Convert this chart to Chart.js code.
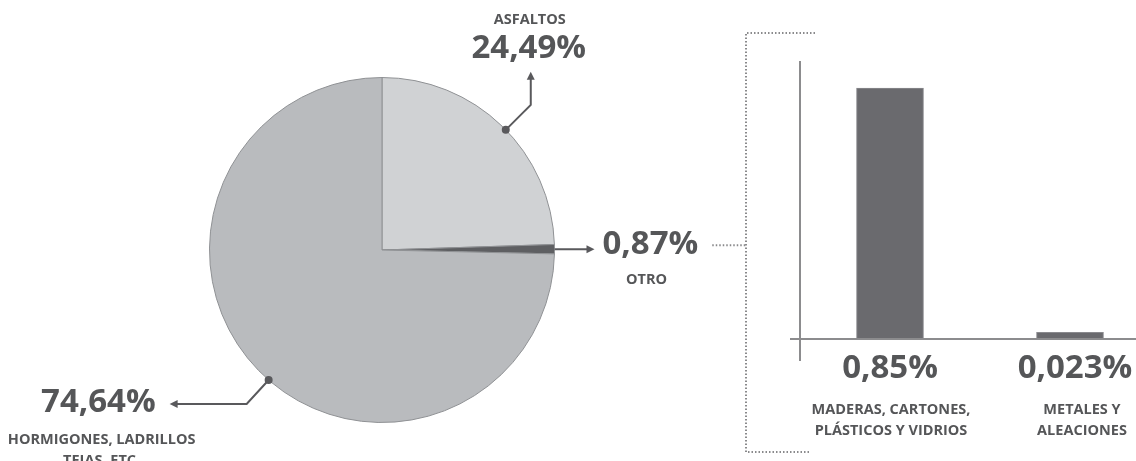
<!DOCTYPE html>
<html>
<head>
<meta charset="utf-8">
<script src="https://cdn.jsdelivr.net/npm/chart.js@4.4.1/dist/chart.umd.min.js"></script>
<style>
  html, body { margin: 0; padding: 0; background: #fff; overflow: hidden; }
  #wrap { position: relative; width: 1136px; height: 461px; overflow: hidden; }
  canvas { position: absolute; left: 0; top: 0; }
</style>
</head>
<body>
<div id="wrap">
  <canvas id="pie" width="1136" height="461"></canvas>
  <canvas id="bars" width="1170" height="461"></canvas>
</div>
<script>
// pie: share of each waste type
const pieLabels = [["ASFALTOS"], ["OTRO"], ["HORMIGONES, LADRILLOS", "TEJAS, ETC."]];
const pieValues = [24.49, 0.87, 74.64];
const pieValueText = ["24,49%", "0,87%", "74,64%"];

// bars: breakdown of "otro"
const barLabels = [["MADERAS, CARTONES,", "PLÁSTICOS Y VIDRIOS"], ["METALES Y", "ALEACIONES"]];
const barValues = [0.85, 0.023];
const barValueText = ["0,85%", "0,023%"];

const TEXT = "#555658";
const LINE = "#59595c";
const DOTS = "#8a8a8c";
const BIG = "bold 33px 'Open Sans'";
const SMALL = "bold 14.5px 'Open Sans'";
const BRACKET_X = 746;

function drawText(ctx, str, x, y, font, align) {
  ctx.font = font;
  ctx.fillStyle = TEXT;
  ctx.textAlign = align || "center";
  ctx.textBaseline = "middle";
  ctx.fillText(str, x, y);
}

function polyline(ctx, pts) {
  ctx.beginPath();
  ctx.moveTo(pts[0][0], pts[0][1]);
  for (const p of pts.slice(1)) ctx.lineTo(p[0], p[1]);
  ctx.stroke();
}

function arrowHead(ctx, x, y, dir) {
  // x,y is the tip
  const len = 8, half = 4;
  ctx.beginPath();
  ctx.moveTo(x, y);
  if (dir === "up") { ctx.lineTo(x - half, y + len); ctx.lineTo(x + half, y + len); }
  if (dir === "right") { ctx.lineTo(x - len, y - half); ctx.lineTo(x - len, y + half); }
  if (dir === "left") { ctx.lineTo(x + len, y - half); ctx.lineTo(x + len, y + half); }
  ctx.closePath();
  ctx.fill();
}

function dot(ctx, x, y) {
  ctx.beginPath();
  ctx.arc(x, y, 4, 0, Math.PI * 2);
  ctx.fill();
}

const pieNotes = {
  id: "pieNotes",
  afterDraw(chart) {
    const ctx = chart.ctx;
    const arcs = chart.getDatasetMeta(0).data;
    const at = (i, t) => {
      const a = arcs[i];
      const ang = a.startAngle + (a.endAngle - a.startAngle) * t;
      return { x: a.x + Math.cos(ang) * a.outerRadius, y: a.y + Math.sin(ang) * a.outerRadius };
    };
    ctx.save();
    ctx.strokeStyle = LINE;
    ctx.fillStyle = LINE;
    ctx.lineWidth = 2;

    // asfaltos
    let p = at(0, 0.52);
    polyline(ctx, [[p.x, p.y], [p.x + 25, p.y - 25], [p.x + 25, p.y - 52]]);
    arrowHead(ctx, p.x + 25, p.y - 58, "up");
    dot(ctx, p.x, p.y);
    drawText(ctx, pieValueText[0], p.x + 23, p.y - 81, BIG);
    drawText(ctx, pieLabels[0][0], p.x + 24, p.y - 110, SMALL);

    // otro
    ctx.fillStyle = LINE;
    p = at(1, 0.5);
    polyline(ctx, [[p.x, p.y], [p.x + 33, p.y]]);
    arrowHead(ctx, p.x + 40, p.y, "right");
    drawText(ctx, pieValueText[1], p.x + 48, p.y - 5, BIG, "left");
    drawText(ctx, pieLabels[1][0], p.x + 92, p.y + 31, SMALL);
    ctx.font = BIG;
    const endX = p.x + 48 + ctx.measureText(pieValueText[1]).width + 14;
    ctx.strokeStyle = DOTS;
    ctx.setLineDash([1.5, 2]);
    polyline(ctx, [[endX, p.y - 4], [BRACKET_X, p.y - 4]]);
    ctx.setLineDash([]);

    // hormigones
    ctx.strokeStyle = LINE;
    ctx.fillStyle = LINE;
    p = at(2, 0.483);
    polyline(ctx, [[p.x, p.y], [p.x - 22, p.y + 24], [p.x - 92, p.y + 24]]);
    arrowHead(ctx, p.x - 99, p.y + 24, "left");
    dot(ctx, p.x, p.y);
    drawText(ctx, pieValueText[2], p.x - 113, p.y + 23, BIG, "right");
    pieLabels[2].forEach((line, j) => drawText(ctx, line, p.x - 167, p.y + 60 + j * 21, SMALL));
    ctx.restore();
  },
};

const barNotes = {
  id: "barNotes",
  afterDraw(chart) {
    const ctx = chart.ctx;
    const area = chart.chartArea;
    const shiftValue = [0, 5];
    const shiftLabel = [1, 12];
    ctx.save();
    chart.getDatasetMeta(0).data.forEach((bar, i) => {
      drawText(ctx, barValueText[i], bar.x + shiftValue[i], bar.base + 31, BIG);
      barLabels[i].forEach((line, j) =>
        drawText(ctx, line, bar.x + shiftLabel[i], bar.base + 72 + j * 21, SMALL)
      );
    });
    // dotted bracket grouping the breakdown
    ctx.strokeStyle = DOTS;
    ctx.lineWidth = 2;
    ctx.setLineDash([1.5, 2]);
    polyline(ctx, [[BRACKET_X + 69, area.top - 29], [BRACKET_X, area.top - 29],
      [BRACKET_X, area.bottom + 92], [BRACKET_X + 64, area.bottom + 92]]);
    ctx.restore();
  },
};

new Chart(document.getElementById("pie"), {
  type: "pie",
  data: {
    labels: pieLabels.map((l) => l.join(" ")),
    datasets: [{
      data: pieValues,
      backgroundColor: ["#d0d2d4", "#5e5f62", "#b9bbbe"],
      borderColor: "#8f9194",
      borderWidth: 1,
    }],
  },
  options: {
    responsive: false,
    animation: false,
    layout: { padding: { left: 209, right: 581, top: 77, bottom: 38 } },
    plugins: { legend: { display: false }, tooltip: { enabled: false } },
  },
  plugins: [pieNotes],
});

new Chart(document.getElementById("bars"), {
  type: "bar",
  data: {
    labels: barLabels.map((l) => l.join(" ")),
    datasets: [{
      data: barValues,
      backgroundColor: "#6a6a6e",
      borderColor: "#8a8a8e",
      borderWidth: 1,
      barThickness: 67,
    }],
  },
  options: {
    responsive: false,
    animation: false,
    layout: { padding: { left: 790, right: 10, top: 62, bottom: 101 } },
    plugins: { legend: { display: false }, tooltip: { enabled: false } },
    scales: {
      x: { display: false },
      y: {
        min: -0.071,
        max: 0.938,
        afterBuildTicks: (scale) => { scale.ticks = [{ value: 0 }]; },
        ticks: { display: false },
        border: { color: "#8c8c8e", width: 2 },
        grid: { color: "#8c8c8e", lineWidth: 2, tickLength: 10 },
      },
    },
  },
  plugins: [barNotes],
});
</script>
</body>
</html>
